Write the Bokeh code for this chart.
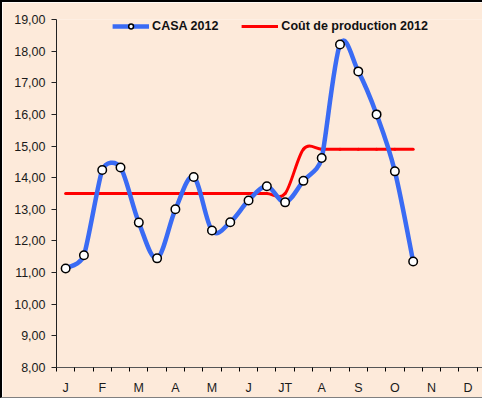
import math
from bokeh.plotting import figure
from bokeh.models import (Range1d, FixedTicker, Legend, LegendItem, ColumnDataSource)
from bokeh.embed import file_html
from bokeh.resources import INLINE

# ---------------- data ----------------
months = ["J", "F", "M", "A", "M", "J", "JT", "A", "S", "O", "N", "D"]
# two readings per month (first / second half), Jan .. Oct
casa_2012 = [11.13, 11.55, 14.24, 14.32, 12.58, 11.45, 13.00, 14.02, 12.33, 12.59,
             13.28, 13.73, 13.22, 13.90, 14.62, 18.21, 17.36, 16.00, 14.20, 11.35]
cout_2012 = [13.5, 13.5, 13.5, 13.5, 13.5, 13.5, 13.5, 13.5, 13.5, 13.5,
             13.5, 13.5, 13.5, 14.9, 14.9, 14.9, 14.9, 14.9, 14.9, 14.9]
y_ticks = [8, 9, 10, 11, 12, 13, 14, 15, 16, 17, 18, 19]

# ---------------- layout ----------------
W, H = 482, 398
LEFT, TOP, BOTTOM = 54, 17, 33
FRAME_W = W - LEFT
FRAME_H = H - TOP - BOTTOM
X0, X1 = -0.5, 22.9
Y0, Y1 = 8.0, 19.0
SX = FRAME_W / (X1 - X0)
SY = FRAME_H / (Y1 - Y0)

BG = "#FDEADA"
BLUE = "#3A6BF4"
RED = "#FF0000"
FONT = "Liberation Sans"


def smooth_segments(xs, ys):
    """Excel-like smoothed curve: cubic Bezier control points (screen-space arms)."""
    n = len(xs)
    px = [x * SX for x in xs]
    py = [y * SY for y in ys]
    arms = []
    for i in range(n):
        i0 = max(i - 1, 0)
        i2 = min(i + 1, n - 1)
        tx = px[i2] - px[i0]
        ty = py[i2] - py[i0]
        d02 = math.hypot(tx, ty)
        ds = []
        if i > 0:
            ds.append(math.hypot(px[i] - px[i - 1], py[i] - py[i - 1]))
        if i < n - 1:
            ds.append(math.hypot(px[i + 1] - px[i], py[i + 1] - py[i]))
        f = 1.0 / 6.0
        if d02 > 0 and d02 / 6.0 > min(ds) / 2.0:
            f = min(ds) / (2.0 * d02)
        arms.append((tx * f / SX, ty * f / SY))
    seg = dict(x0=[], y0=[], x1=[], y1=[], cx0=[], cy0=[], cx1=[], cy1=[])
    for i in range(n - 1):
        seg["x0"].append(xs[i]); seg["y0"].append(ys[i])
        seg["x1"].append(xs[i + 1]); seg["y1"].append(ys[i + 1])
        seg["cx0"].append(xs[i] + arms[i][0]); seg["cy0"].append(ys[i] + arms[i][1])
        seg["cx1"].append(xs[i + 1] - arms[i + 1][0]); seg["cy1"].append(ys[i + 1] - arms[i + 1][1])
    return ColumnDataSource(seg)


xs = list(range(len(casa_2012)))

p = figure(width=W, height=H, x_range=Range1d(X0, X1), y_range=Range1d(Y0, Y1),
           output_backend="svg", toolbar_location=None,
           min_border_left=LEFT, min_border_top=TOP, min_border_bottom=BOTTOM,
           min_border_right=0, background_fill_color=BG, border_fill_color=BG,
           outline_line_color=None)
p.styles = {"border-top": "2px solid #000000", "border-left": "2px solid #000000",
            "border-bottom": "1px solid #808080"}
p.xgrid.visible = False
p.ygrid.visible = False

# red production cost curve
red_src = smooth_segments(xs, cout_2012)
p.bezier(x0="x0", y0="y0", x1="x1", y1="y1", cx0="cx0", cy0="cy0", cx1="cx1", cy1="cy1",
         source=red_src, line_color=RED, line_width=3, line_cap="round")
red_leg = p.line(x=[float("nan")], y=[float("nan")], line_color=RED, line_width=3)

# blue CASA curve
blue_src = smooth_segments(xs, casa_2012)
p.bezier(x0="x0", y0="y0", x1="x1", y1="y1", cx0="cx0", cy0="cy0", cx1="cx1", cy1="cy1",
         source=blue_src, line_color=BLUE, line_width=4.5, line_cap="round")
blue_leg = p.line(x=[float("nan")], y=[float("nan")], line_color=BLUE, line_width=4.5)
pts = p.scatter(xs, casa_2012, size=8.5, fill_color="white", line_color="black",
                line_width=1.5)

# axes
xa = p.xaxis[0]
xa.ticker = FixedTicker(ticks=[2 * i for i in range(len(months))],
                        minor_ticks=[k - 0.5 for k in range(2 * len(months) + 1)])
xa.major_label_overrides = {2 * i: m for i, m in enumerate(months)}
xa.major_tick_out = 0
xa.major_tick_in = 0
xa.minor_tick_out = 4
xa.minor_tick_in = 0
xa.minor_tick_line_color = "#000000"
xa.axis_line_color = "#555555"
xa.major_label_standoff = 9
xa.major_label_text_font = FONT
xa.major_label_text_font_size = "12.5px"
xa.major_label_text_color = "#1a1a1a"

ya = p.yaxis[0]
ya.ticker = FixedTicker(ticks=y_ticks, minor_ticks=[])
ya.major_label_overrides = {v: f"{v:.2f}".replace(".", ",") for v in y_ticks}
ya.major_tick_out = 5
ya.major_tick_in = 0
ya.minor_tick_out = 0
ya.minor_tick_in = 0
ya.axis_line_color = "#222222"
ya.major_tick_line_color = "#222222"
ya.major_label_standoff = 6
ya.major_label_text_font = FONT
ya.major_label_text_font_size = "12.5px"
ya.major_label_text_color = "#1a1a1a"

legend = Legend(items=[LegendItem(label="CASA 2012", renderers=[blue_leg, pts]),
                       LegendItem(label="Coût de production 2012", renderers=[red_leg])],
                orientation="horizontal", location="top_center",
                background_fill_alpha=0, border_line_color=None, padding=0, margin=0,
                spacing=23, glyph_width=37, glyph_height=12, label_height=12,
                label_standoff=3, label_text_font=FONT, label_text_font_style="bold",
                label_text_font_size="12.5px", label_text_color="#111111")
p.add_layout(legend, "center")

open("out.html", "w").write(file_html(p, INLINE))
